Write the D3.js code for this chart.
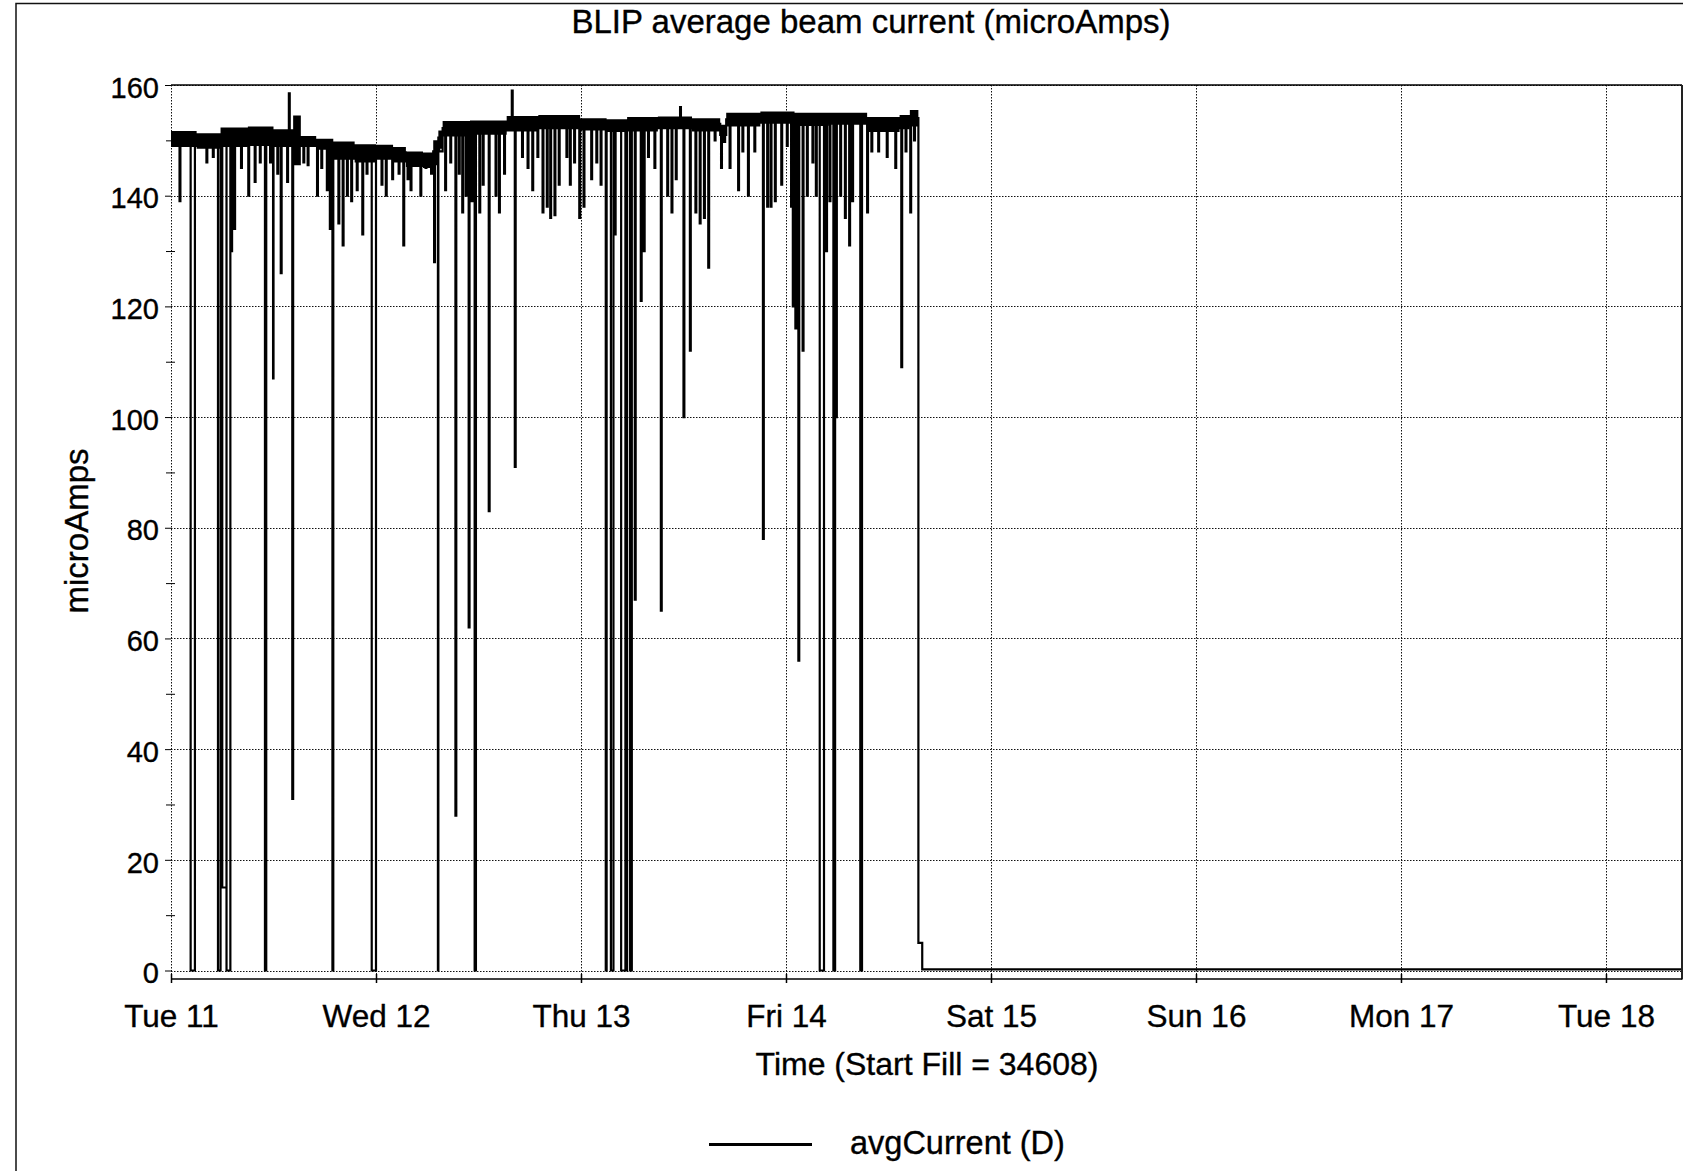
<!DOCTYPE html>
<html>
<head>
<meta charset="utf-8">
<script src="https://cdn.jsdelivr.net/npm/d3@7"></script>
<style>
  body { margin: 0; background: #fff; }
  text { font-family: "Liberation Sans", Arial, sans-serif; fill: #000; stroke: #000; stroke-width: 0.35px; }
</style>
</head>
<body>
<svg id="chart"></svg>
<script>
// all times are hours after Tue 11 00:00
const startTime = Date.UTC(2014, 2, 11);
const endHour = 176.9;

// beam-on level (steps), with the width of the noisy band
const baseHours = [0, 3, 5.8, 9, 12, 14.3, 15.2, 17, 19, 21.5, 24, 26, 27.5, 29.5, 30.7, 31.3, 31.8, 35, 39.3, 43,
  47.9, 51, 53.4, 57, 61, 64.3, 65, 69, 73, 77, 81.5, 85.3, 86.5, 87.5];
const baseMid   = [150.2, 150, 150.8, 151, 150.7, 150, 149.8, 149.5, 148.5, 148, 148.2, 147.8, 147, 146.8, 148, 150.5, 152.2, 152.5, 153, 153.5,
  153, 152.8, 153, 153.3, 153, 151, 153.8, 154.3, 154, 154, 153, 153.5, 154, 154];
const baseLow   = [148.8, 148.5, 148.8, 149, 148.8, 145.5, 148.8, 148.3, 146.5, 146, 146.5, 146, 145.2, 145, 145.5, 148.5, 150.7, 151, 151.6, 152,
  151.8, 151.5, 151.6, 152, 151.6, 149.5, 152.5, 153, 152.6, 152.8, 151.5, 152, 152.5, 152.5];
const baseHigh  = [151.7, 151.3, 152.3, 152.5, 152, 154.5, 150.8, 150.3, 149.8, 149.3, 149.2, 148.8, 148, 147.8, 150, 151.8, 153.5, 153.6, 154.4, 154.6,
  154, 153.8, 154.2, 154.3, 154, 152.8, 155, 155.2, 155, 155, 154.2, 154.6, 155.5, 155.5];

// short trips (narrow spikes)
const dipHours = [1.0, 4.15, 4.9, 7.05, 7.4, 8.2, 9.05, 9.8, 10.4, 11.6, 11.95, 12.45, 12.85, 13.6, 13.8, 14.2,
  15.5, 16.0, 17.1, 17.6, 18.25, 18.6, 19.6, 20.1, 20.6, 21.1, 21.75, 22.4, 22.9,
  24.65, 25.15, 25.9, 26.65, 27.2, 27.7, 28.05, 29.2, 29.8, 30.45, 30.8,
  32.1, 32.7, 33.3, 33.7, 34.1, 34.5, 34.85, 35.2, 36.1, 36.5, 37.2, 38.0, 38.4, 39.0, 39.9, 40.25,
  41.1, 41.75, 42.3, 42.9, 43.5, 44.0, 44.4, 44.9, 45.4, 46.3, 46.7, 47.2, 47.8, 48.3, 49.2, 49.8, 50.3,
  51.95, 54.3, 55.0, 55.35, 55.85, 56.6, 57.35, 58.1, 58.6, 59.1, 59.6, 60.0, 60.75, 61.4, 61.9, 62.4, 62.9,
  63.65, 64.4, 65.4, 66.4, 66.9, 67.55, 68.3, 69.3, 69.8, 70.2, 70.7, 71.45, 72.1, 72.6, 72.8, 73.1, 73.45,
  73.95, 74.45, 75.1, 75.5, 76.7, 77.1, 77.85, 78.35, 78.9, 79.4, 79.75, 81.5, 82.0, 82.8, 83.8, 84.8,
  85.5, 86.0, 86.55, 87.0];
const dipValues = [139, 146, 147, 130, 134, 145, 140, 142.5, 146, 146, 107, 144, 126, 142.5, 158.5, 31,
  146, 145.5, 140, 145, 141, 134, 135, 131, 140, 139, 141, 133, 144,
  142, 140, 143, 144, 131, 143, 141, 140, 145, 144, 128,
  141, 146, 28, 144, 137, 140, 62, 139, 137, 142, 83, 140, 137, 144, 159, 91,
  147, 145, 141, 147, 137, 138, 136, 136.5, 142, 147, 142, 146, 136, 138, 143, 146, 142,
  133, 67, 121, 130, 147, 145, 65, 140, 137, 143, 156, 100, 112, 137, 135, 136, 127,
  150, 145, 145, 141, 148, 140, 148, 78, 138, 138, 139, 142, 149, 138, 120, 116, 56,
  112, 140, 146, 140, 130, 139, 100, 140, 136, 131, 139, 137, 148, 148, 147, 145,
  109, 148, 137, 150];
const dipWidth = 0.1;

// longer beam-off periods
const outageHours  = [2.3, 5.5, 6.0, 6.5, 11.0, 18.9, 23.5, 31.25, 35.55, 50.9, 51.5, 52.7, 53.3, 53.75, 75.95, 77.55, 80.7];
const outageLength = [0.5, 0.45, 0.5, 0.45, 0.15, 0.35, 0.6, 0.15, 0.15, 0.5, 0.3, 0.5, 0.35, 0.2, 0.5, 0.2, 0.2];
const outageValues = [0, 0, 15, 0, 0, 0, 0, 0, 0, 0, 0, 0, 0, 0, 0, 0, 0];

// end of the fill
const tailHours  = [87.5, 87.95, 176.9];
const tailValues = [5, 0.2, 0.2];

const yTicks = [0, 20, 40, 60, 80, 100, 120, 140, 160];
const yMinorTicks = [10, 30, 50, 70, 90, 110, 130, 150];

const W = 1683, H = 1171;
const plotLeft = 171, plotRight = 1682, plotTop = 85, zeroY = 970.5, axisY = 979;

const toDate = h => new Date(startTime + h * 3600 * 1000);

const svg = d3.select("#chart").attr("width", W).attr("height", H);

svg.append("rect")
  .attr("x", 16).attr("y", 3.5)
  .attr("width", 1800).attr("height", 1300)
  .attr("fill", "none").attr("stroke", "#111").attr("stroke-width", 1.5);

const x = d3.scaleUtc().domain([toDate(0), toDate(endHour)]).range([plotLeft, plotRight]);
const y = d3.scaleLinear().domain([0, 160]).range([zeroY, plotTop]);
const days = d3.utcDay.range(toDate(0), toDate(endHour + 0.01));

// grid
const grid = svg.append("g").attr("stroke", "#111").attr("stroke-width", 1).attr("stroke-dasharray", "1.5,1.5");
grid.selectAll(".gh").data(yTicks).enter().append("line")
  .attr("x1", plotLeft).attr("x2", plotRight)
  .attr("y1", d => Math.round(y(d)) + 0.5).attr("y2", d => Math.round(y(d)) + 0.5);
grid.selectAll(".gv").data(days).enter().append("line")
  .attr("x1", d => Math.round(x(d)) + 0.5).attr("x2", d => Math.round(x(d)) + 0.5)
  .attr("y1", plotTop).attr("y2", axisY);

// data
const events = [];
baseHours.forEach((h, i) => events.push([h, baseMid[i]]));
function baseAt(h) {
  const i = Math.max(0, d3.bisectRight(baseHours, h) - 1);
  return baseMid[i];
}
dipHours.forEach((h, i) => {
  events.push([h, dipValues[i]]);
  events.push([h + dipWidth, baseAt(h)]);
});
outageHours.forEach((h, i) => {
  events.push([h, outageValues[i]]);
  events.push([h + outageLength[i], baseAt(h)]);
});
tailHours.forEach((h, i) => events.push([h, tailValues[i]]));
events.sort((a, b) => a[0] - b[0]);

svg.append("clipPath").attr("id", "plot")
  .append("rect").attr("x", plotLeft).attr("y", plotTop).attr("width", plotRight - plotLeft).attr("height", axisY - plotTop);

const plot = svg.append("g").attr("clip-path", "url(#plot)");

const band = baseHours.map((h, i) => ({ h: h, lo: baseLow[i], hi: baseHigh[i] }));
plot.append("path")
  .datum(band)
  .attr("fill", "#000")
  .attr("d", d3.area().curve(d3.curveStepAfter)
    .x(d => x(toDate(d.h))).y0(d => y(d.lo)).y1(d => y(d.hi)));

plot.append("path")
  .datum(events)
  .attr("fill", "none")
  .attr("stroke", "#000")
  .attr("stroke-width", 2.2)
  .attr("d", d3.line().curve(d3.curveStepAfter)
    .x(d => x(toDate(d[0]))).y(d => y(d[1])));

// frame
svg.append("line").attr("x1", plotLeft).attr("x2", plotRight).attr("y1", plotTop).attr("y2", plotTop)
  .attr("stroke", "#000").attr("stroke-width", 1.5);
svg.append("line").attr("x1", plotRight).attr("x2", plotRight).attr("y1", plotTop).attr("y2", axisY + 0.5)
  .attr("stroke", "#222").attr("stroke-width", 2);
svg.append("line").attr("x1", plotLeft).attr("x2", plotRight).attr("y1", axisY).attr("y2", axisY)
  .attr("stroke", "#000").attr("stroke-width", 1.5);

// axes
const yAxis = svg.append("g").attr("transform", `translate(${plotLeft},0)`)
  .call(d3.axisLeft(y).tickValues(yTicks).tickSize(6).tickPadding(6).tickFormat(d3.format("d")));
yAxis.select(".domain").remove();
yAxis.selectAll("text").attr("font-size", 29).attr("dy", "0.42em")
  .style("font-family", '"Liberation Sans", Arial, sans-serif');

const yMinor = svg.append("g").attr("transform", `translate(${plotLeft + 4},0)`)
  .call(d3.axisLeft(y).tickValues(yMinorTicks).tickSize(9).tickFormat(""));
yMinor.select(".domain").remove();

const xAxis = svg.append("g").attr("transform", `translate(0,${axisY - 5})`)
  .call(d3.axisBottom(x).tickValues(days).tickSize(9).tickPadding(22).tickFormat(d3.utcFormat("%a %d")));
xAxis.select(".domain").remove();
xAxis.selectAll("line").attr("stroke-width", 1.5);
xAxis.selectAll("text").attr("font-size", 31.5)
  .style("font-family", '"Liberation Sans", Arial, sans-serif');

// titles
svg.append("text").attr("x", 871).attr("y", 33).attr("text-anchor", "middle")
  .attr("font-size", 33).text("BLIP average beam current (microAmps)");
svg.append("text").attr("x", 927).attr("y", 1075).attr("text-anchor", "middle")
  .attr("font-size", 32).text("Time (Start Fill = 34608)");
svg.append("text").attr("transform", "translate(88,531) rotate(-90)").attr("text-anchor", "middle")
  .attr("font-size", 33).text("microAmps");

// legend
svg.append("line").attr("x1", 709).attr("x2", 812).attr("y1", 1144.5).attr("y2", 1144.5)
  .attr("stroke", "#000").attr("stroke-width", 3);
svg.append("text").attr("x", 850).attr("y", 1154).attr("font-size", 32.5).text("avgCurrent (D)");
</script>
</body>
</html>
